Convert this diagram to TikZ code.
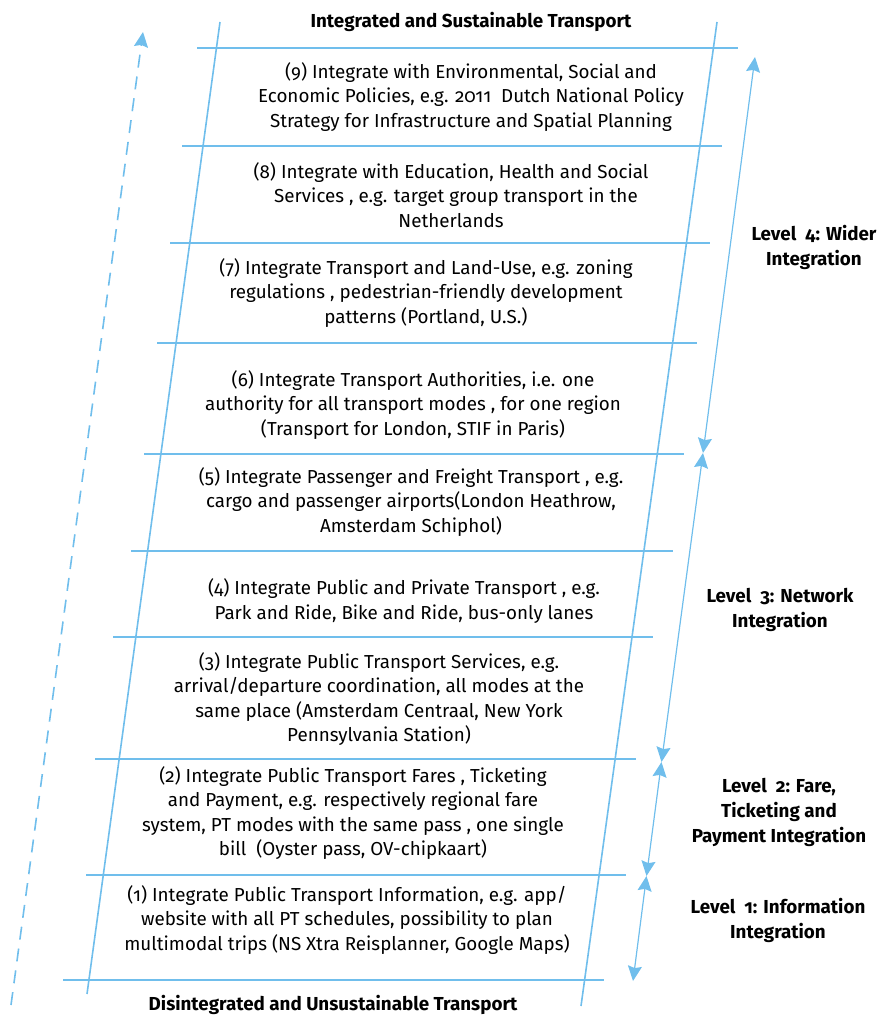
\documentclass[tikz,border=0pt]{standalone}
\usepackage{fontspec}
\setmainfont{Fira Sans}[Numbers=OldStyle]
\usetikzlibrary{arrows.meta}
\definecolor{rail}{RGB}{112,190,236}
\begin{document}
\begin{tikzpicture}[x=1pt,y=-1pt,
  railline/.style={draw=rail,line width=1.6pt},
  rung/.style={draw=rail,line width=1.8pt},
  tipS/.tip={Stealth[length=15pt,width=14pt,inset=2pt]},
  lvlarrow/.style={draw=rail,line width=1.2pt,tipS-tipS},
  progress/.style={draw=rail,line width=1.6pt,dash pattern=on 13pt off 9pt,-tipS},
  desc/.style={align=center,font=\fontsize{18.8}{24.5}\selectfont,inner sep=0pt},
  lvl/.style={align=center,font=\bfseries\fontsize{18.8}{25}\selectfont,inner sep=0pt},
]
\useasboundingbox (0,0) rectangle (885,1016);

% rails
\coordinate (LT) at (220,22);
\coordinate (LB) at (87,994);
\coordinate (RT) at (717,22);
\coordinate (RB) at (581,1006);
\draw[railline] (LT) -- (LB);
\draw[railline] (RT) -- (RB);

% rungs
\foreach \n/\y/\xa/\xb in {r1/48/197/738, r2/146/182/722, r3/243/170/710, r4/343/157/697,
  r5/454/144/684, r6/551/131/673, r7/637/113/653, r8/759/95/636, r9/875/86/626, r10/980/63/604}{
  \coordinate (\n a) at (\xa,\y);
  \coordinate (\n b) at (\xb,\y);
  \draw[rung] (\n a) -- (\n b);
}

% progress arrow
\coordinate (PB) at (11,1005);
\coordinate (PT) at (143,32);
\draw[progress] (PB) -- (PT);

% level arrows
\coordinate (A0) at (755,57);
\coordinate (A1) at (703,453);
\coordinate (A2) at (661.5,762);
\coordinate (A3) at (646.5,876);
\coordinate (A4) at (633,981);
\draw[lvlarrow] (A0) -- (A1);
\draw[lvlarrow] (A1) -- (A2);
\draw[lvlarrow] (A2) -- (A3);
\draw[lvlarrow] (A3) -- (A4);

% titles
\node[lvl] (top) at (471,22) {Integrated and Sustainable Transport};
\node[lvl] (bottom) at (333,1005) {Disintegrated and Unsustainable Transport};

% descriptions
\node[desc] (s9) at (471,97) {(9) Integrate with Environmental, Social and\\Economic Policies, e.g. 2011\ \ Dutch National Policy\\Strategy for Infrastructure and Spatial Planning};
\node[desc] (s8) at (451,195) {(8) Integrate with Education, Health and Social\\\ \ Services , e.g. target group transport in the\\Netherlands};
\node[desc] (s7) at (426,293) {(7) Integrate Transport and Land-Use, e.g. zoning\\regulations , pedestrian-friendly development\\patterns (Portland, U.S.)};
\node[desc] (s6) at (413,405) {(6) Integrate Transport Authorities, i.e. one\\authority for all transport modes , for one region\\(Transport for London, STIF in Paris)};
\node[desc] (s5) at (411,502) {(5) Integrate Passenger and Freight Transport , e.g.\\cargo and passenger airports(London Heathrow,\\Amsterdam Schiphol)};
\node[desc] (s4) at (404,601) {(4) Integrate Public and Private Transport , e.g.\\Park and Ride, Bike and Ride, bus-only lanes};
\node[desc] (s3) at (379,699) {(3) Integrate Public Transport Services, e.g.\\arrival/departure coordination, all modes at the\\same place (Amsterdam Centraal, New York\\Pennsylvania Station)};
\node[desc] (s2) at (353,813) {(2) Integrate Public Transport Fares , Ticketing\\and Payment, e.g. respectively regional fare\\system, PT modes with the same pass , one single\\bill\ \ (Oyster pass, OV-chipkaart)};
\node[desc] (s1) at (347,920) {(1) Integrate Public Transport Information, e.g. app/\\website with all PT schedules, possibility to plan\\multimodal trips (NS Xtra Reisplanner, Google Maps)};

% level labels
\node[lvl] (L4) at (814,247) {Level\ \ 4: Wider\\Integration};
\node[lvl] (L3) at (780,610) {Level\ \ 3: Network\\Integration};
\node[lvl] (L2) at (779,812) {Level\ \ 2: Fare,\\Ticketing and\\Payment Integration};
\node[lvl] (L1) at (778,920) {Level\ \ 1: Information\\Integration};
\end{tikzpicture}
\end{document}
